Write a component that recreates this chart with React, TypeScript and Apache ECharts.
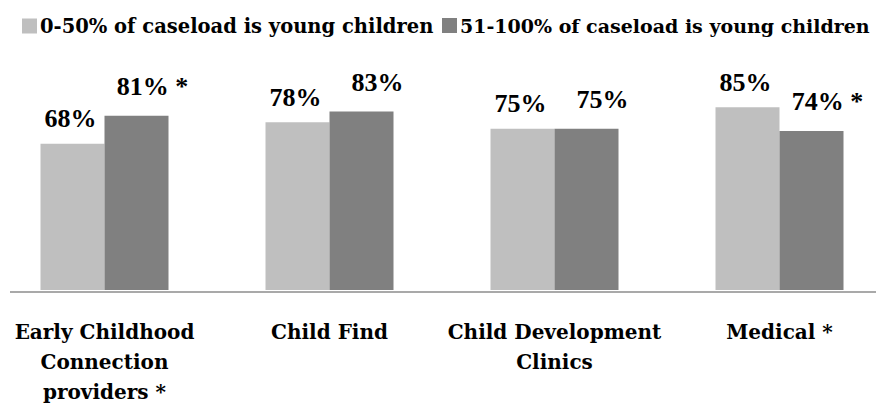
import React, { useEffect, useRef } from "react";
import * as echarts from "echarts";

const categories = [
  "Early Childhood\nConnection\nproviders *",
  "Child Find",
  "Child Development\nClinics",
  "Medical *",
];
const seriesNames = [
  "0-50% of caseload is young children",
  "51-100% of caseload is young children",
];
const lowCaseload = [68, 78, 75, 85];
const highCaseload = [81, 83, 75, 74];
const lowMarks = ["", "", "", ""];
const highMarks = [" *", "", "", " *"];

const SHIFT = 8;

export default function App() {
  const ref = useRef<HTMLDivElement>(null);
  useEffect(() => {
    if (!ref.current) return;
    const chart = echarts.init(ref.current, null, { renderer: "svg" });
    const valueFont = {
      fontFamily: "Liberation Serif",
      fontWeight: "bold" as const,
      fontSize: 26,
      color: "#000",
    };
    const legendBase = (left: number, name: string, size: number) => ({
      left,
      top: 11,
      itemWidth: 15,
      itemHeight: 15,
      icon: "rect",
      textStyle: {
        fontFamily: "DejaVu Serif",
        fontWeight: "bold",
        fontSize: size,
        color: "#000",
        padding: [0, 0, 0, -2],
      },
      data: [name],
    });
    chart.setOption({
      animation: false,
      backgroundColor: "#fff",
      legend: [
        legendBase(17 + SHIFT, seriesNames[0], 19.5),
        legendBase(437 + SHIFT, seriesNames[1], 19),
      ],
      grid: { left: 0, right: 0, top: 75, bottom: 115 },
      xAxis: {
        type: "category",
        data: categories,
        axisLine: { show: false },
        axisTick: { show: false },
        axisLabel: {
          interval: 0,
          margin: 27,
          fontFamily: "DejaVu Serif",
          fontWeight: "bold",
          fontSize: 20,
          lineHeight: 30,
          color: "#000",
        },
      },
      yAxis: { type: "value", min: 0, max: 100, show: false, splitLine: { show: false } },
      graphic: [
        {
          type: "line",
          shape: { x1: 10 + SHIFT, y1: 292, x2: 876 + SHIFT, y2: 292 },
          style: { stroke: "#8c8c8c", lineWidth: 1.5 },
        },
      ],
      series: [
        {
          name: seriesNames[0],
          type: "bar",
          data: lowCaseload,
          barWidth: 64,
          barGap: "0%",
          itemStyle: { color: "#bfbfbf" },
          label: {
            show: true,
            position: "top",
            distance: 12,
            offset: [-2, 0],
            ...valueFont,
            formatter: (p: any) => `${p.value}%${lowMarks[p.dataIndex]}`,
          },
        },
        {
          name: seriesNames[1],
          type: "bar",
          data: highCaseload,
          barWidth: 64,
          itemStyle: { color: "#808080" },
          label: {
            show: true,
            position: "top",
            distance: 14,
            offset: [16, -2],
            ...valueFont,
            formatter: (p: any) => `${p.value}%${highMarks[p.dataIndex]}`,
          },
        },
      ],
    });
    return () => chart.dispose();
  }, []);
  return (
    <div
      ref={ref}
      style={{ position: "fixed", left: -SHIFT, top: 0, width: 876 + 24, height: 407 }}
    />
  );
}
